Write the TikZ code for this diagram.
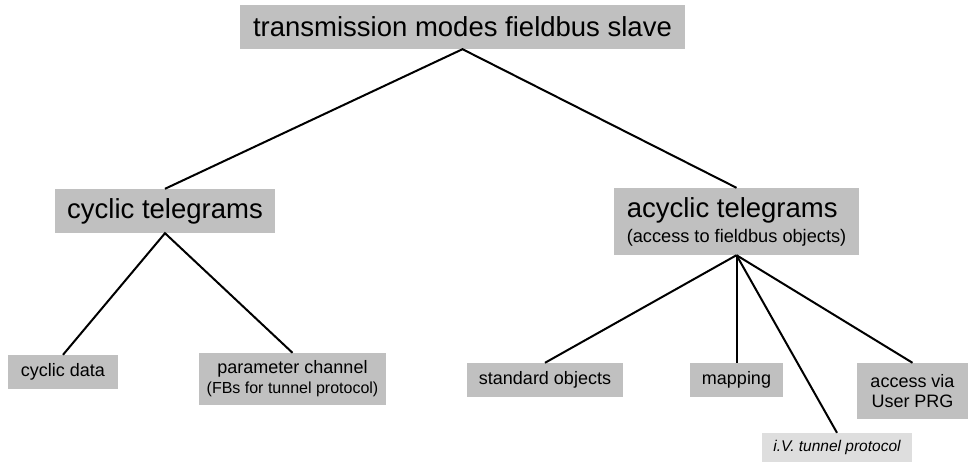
\documentclass[tikz,border=0pt]{standalone}
\usepackage{fontspec}
\setmainfont{Liberation Sans}
\definecolor{boxgray}{HTML}{C0C0C0}
\definecolor{lightgray2}{HTML}{DEDEDE}
\begin{document}
\begin{tikzpicture}[x=1pt,y=-1pt,
  box/.style={fill=boxgray, inner sep=0pt, anchor=center, align=center},
  big/.style={font=\fontsize{27.5}{32}\selectfont},
  small/.style={font=\fontsize{18}{21}\selectfont},
  conn/.style={line width=2pt, black}]
\useasboundingbox[fill=white] (0,0) rectangle (969,462);
\node[box, big, minimum width=445pt, minimum height=44pt] (top) at (462.5,27) {transmission modes fieldbus slave};
\node[box, big, minimum width=220pt, minimum height=44pt] (cyc) at (165,211) {cyclic telegrams};
\node[box, minimum width=245pt, minimum height=67pt, align=left] (acy) at (736.5,221.5)
  {{\fontsize{27.5}{32}\selectfont acyclic telegrams}\\[5pt]{\fontsize{18.2}{21}\selectfont (access to fieldbus objects)}};
\node[box, small, minimum width=110pt, minimum height=34pt] (cdata) at (63,372) {cyclic data};
\node[box, small, minimum width=187pt, minimum height=52pt] (param) at (292.5,379)
  {parameter channel\\[-1pt]{\fontsize{16}{19}\selectfont (FBs for tunnel protocol)}};
\node[box, small, minimum width=156pt, minimum height=34pt] (std) at (545,380) {standard objects};
\node[box, small, minimum width=93pt, minimum height=34pt] (map) at (736.5,380) {mapping};
\node[box, small, minimum width=111pt, minimum height=56pt] (access) at (912.5,391) {access via\\[-1pt]User PRG};
\node[box, fill=lightgray2, minimum width=150pt, minimum height=29pt, font=\fontsize{15.5}{18}\selectfont\itshape] (ivt) at (837,447.5) {i.V. tunnel protocol};
\draw[conn] (cyc.north) -- (top.south) -- (acy.north);
\draw[conn] (cdata.north) -- (cyc.south) -- (param.north);
\draw[conn] (acy.south) -- (std.north);
\draw[conn] (acy.south) -- (map.north);
\draw[conn] (acy.south) -- (ivt.north);
\draw[conn] (acy.south) -- (access.north);
\end{tikzpicture}
\end{document}
